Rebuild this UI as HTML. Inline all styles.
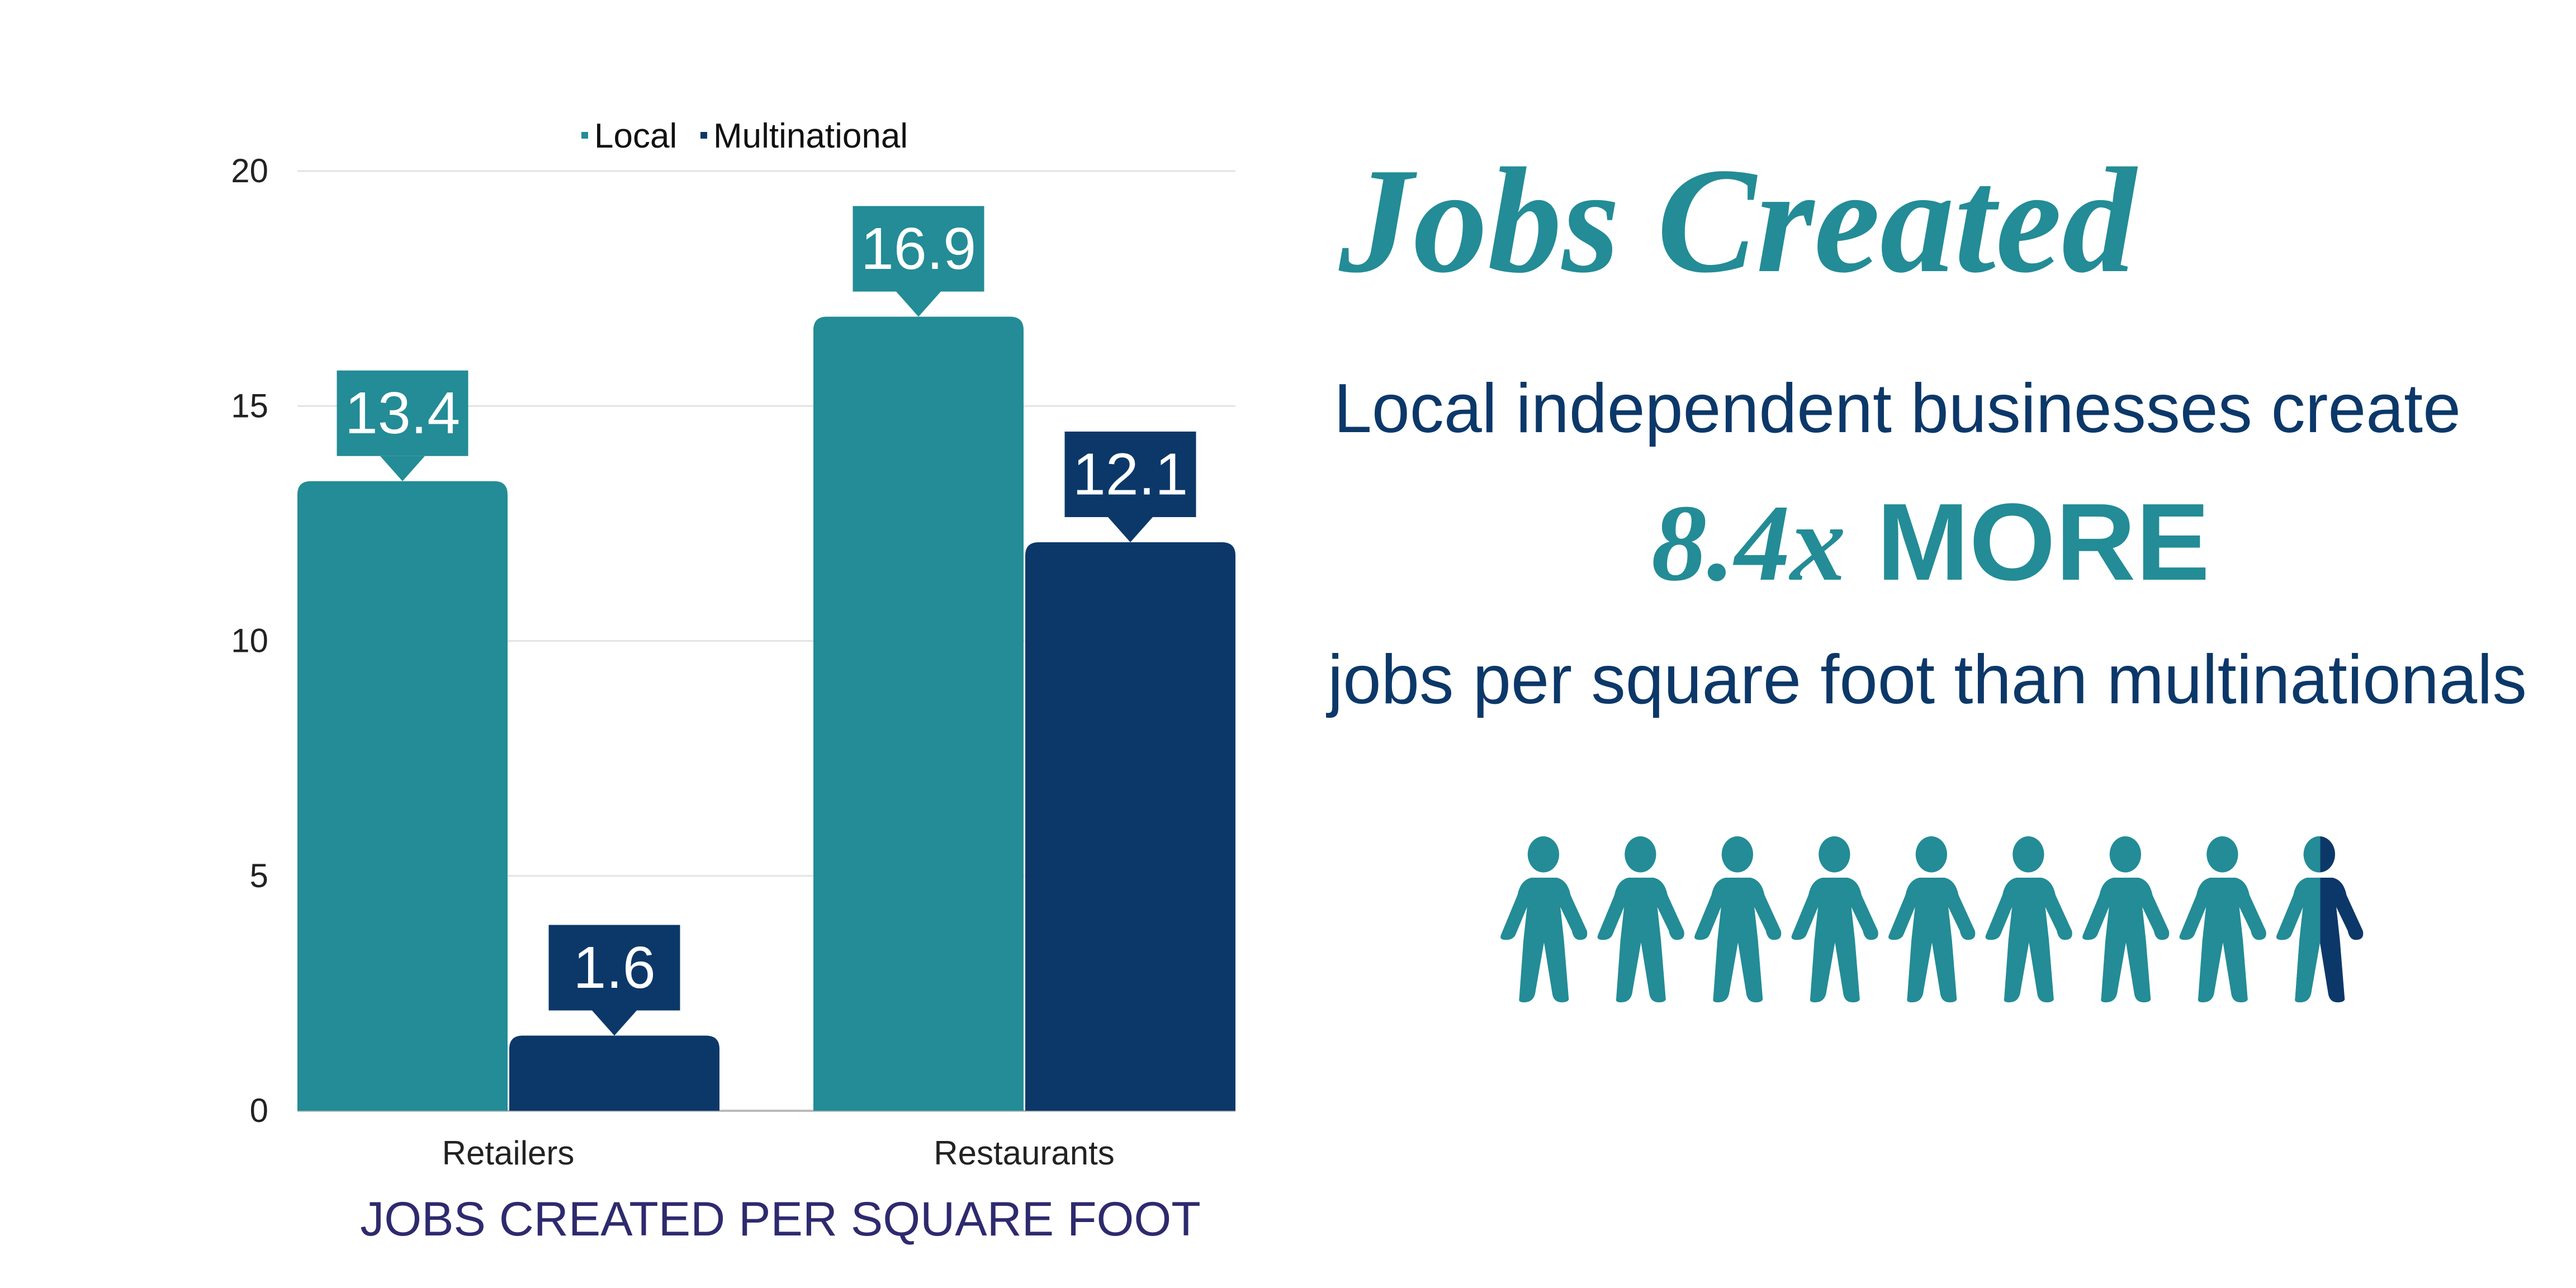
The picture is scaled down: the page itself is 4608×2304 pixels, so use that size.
<!DOCTYPE html>
<html><head><meta charset="utf-8"><style>html,body{margin:0;padding:0;background:#fff}svg{display:block}</style></head>
<body>
<svg id="root" width="4608" height="2304" viewBox="0 0 4608 2304" xmlns="http://www.w3.org/2000/svg">
<g id="chart"></g>
<g>
<text x="2395" y="485" font-family="Liberation Serif, serif" font-style="italic" font-weight="bold" font-size="270" fill="#238c96" textLength="1426" lengthAdjust="spacingAndGlyphs">Jobs Created</text>
<text x="2386" y="773" font-family="Liberation Sans, sans-serif" font-size="124" fill="#0c3869" textLength="2016" lengthAdjust="spacingAndGlyphs">Local independent businesses create</text>
<text x="2954" y="1037" font-size="196" fill="#238c96" textLength="999" lengthAdjust="spacingAndGlyphs"><tspan font-family="Liberation Serif, serif" font-style="italic" font-weight="bold">8.4x</tspan><tspan font-family="Liberation Sans, sans-serif" font-weight="bold"> MORE</tspan></text>
<text x="2375" y="1258" font-family="Liberation Sans, sans-serif" font-size="124" fill="#0c3869" textLength="2145" lengthAdjust="spacingAndGlyphs">jobs per square foot than multinationals</text>
<g id="people"></g>
</g>
</svg>
<script>
const NS='http://www.w3.org/2000/svg';
const categories=['Retailers','Restaurants'];
const localValues=[13.4,16.9];
const multiValues=[1.6,12.1];
const seriesNames=['Local','Multinational'];
const yTicks=[0,5,10,15,20];
const peopleCount=8.4;

const TEAL='#238c96',NAVY='#0c3869';
const X0=532,X1=2210,Y0=1987,Y20=306,YMAX=20;
const y=v=>Y0-(v/YMAX)*(Y0-Y20);
const barW=376;
function mk(tag,attrs,parent){const e=document.createElementNS(NS,tag);for(const k in attrs)e.setAttribute(k,attrs[k]);parent.appendChild(e);return e;}
const chart=document.getElementById('chart');
const F='Liberation Sans Narrow, Liberation Sans, sans-serif';
yTicks.forEach(t=>{
  const l=mk('line',{x1:X0,x2:X1,y1:y(t),y2:y(t),stroke:t===0?'#bbbbbb':'#e3e3e3','stroke-width':t===0?4:3},chart);
  
  
  const tx=mk('text',{x:480,y:y(t)+20,'text-anchor':'end','font-family':F,'font-size':60,fill:'#222'},chart);
  tx.textContent=t;
  
  
});
function bar(x,v,color,name){
  const top=y(v),r=24;
  const p=mk('path',{d:`M${x} ${Y0} L${x} ${top+r} Q${x} ${top} ${x+r} ${top} L${x+barW-r} ${top} Q${x+barW} ${top} ${x+barW} ${top+r} L${x+barW} ${Y0} Z`,fill:color},chart);
  
  
  const cx=x+barW/2,bw=235,bh=153,by=top-45-bh;
  const g=mk('g',{},chart);
  
  
  mk('rect',{x:cx-bw/2,y:by,width:bw,height:bh,fill:color},g);
  mk('path',{d:`M${cx-40} ${by+bh} L${cx+40} ${by+bh} L${cx} ${top} Z`,fill:color},g);
  const t=mk('text',{x:cx,y:by+bh/2+36,'text-anchor':'middle','font-family':F,'font-size':106,fill:'#fff'},g);
  t.textContent=v;
}
categories.forEach((c,i)=>{
  const start=i===0?X0:X1-2*barW-3;
  bar(start,localValues[i],TEAL,'bar-local-'+c.toLowerCase());
  bar(start+barW+3,multiValues[i],NAVY,'bar-multinational-'+c.toLowerCase());
  const t=mk('text',{x:start+barW+1,y:2083,'text-anchor':'middle','font-family':F,'font-size':60,fill:'#222'},chart);
  t.textContent=c;
  
  
});
const xt=mk('text',{x:1396,y:2210,'text-anchor':'middle','font-family':'Liberation Sans, sans-serif','font-size':86,fill:'#2e2a6e'},chart);
xt.textContent='JOBS CREATED PER SQUARE FOOT';


const leg=mk('g',{},chart);


[[1040,1063,TEAL],[1253,1276,NAVY]].forEach((d,i)=>{
  const e=mk('g',{},leg);
  
  
  mk('rect',{x:d[0],y:236,width:12,height:12,fill:d[2]},e);
  const t=mk('text',{x:d[1],y:264,'font-family':F,'font-size':62,fill:'#111'},e);
  t.textContent=seriesNames[i];
});
const people=document.getElementById('people');
const fig='M130 357 L172 357 Q190 370 195 450 L222 640 Q225 688 210 688 Q200 688 197 640 L178 513 L184 690 L192 1005 Q190 1020 180 1020 Q168 1020 165 980 L151 702 L137 960 Q135 1020 118 1020 Q108 1020 110 1000 L117 690 L123 513 L104 660 Q100 688 88 688 Q76 688 80 660 L107 450 Q112 370 130 357 Z';
const defs=mk('defs',{},people);
const sym=mk('symbol',{id:'person',viewBox:'78 137 147 883',preserveAspectRatio:'none'},defs);
mk('path',{d:fig},sym);
mk('ellipse',{cx:150,cy:233,rx:26,ry:96},sym);
const full=Math.floor(peopleCount);
const frac=peopleCount-full;
const spacing=173.5,fx=2683,fy=1496,fw=159,fh=297;
for(let i=0;i<Math.ceil(peopleCount);i++){
  const x=fx+i*spacing;
  const g=mk('g',{},people);
  
  
  if(i<full){mk('use',{href:'#person',x:x,y:fy,width:fw,height:fh,fill:TEAL},g);}
  else{
    const cp=mk('clipPath',{id:'half'},defs);
    mk('rect',{x:x-10,y:fy-10,width:fw*0.5+10,height:fh+20},cp);
    mk('use',{href:'#person',x:x,y:fy,width:fw,height:fh,fill:NAVY},g);
    const w=mk('g',{'clip-path':'url(#half)'},g);
    mk('use',{href:'#person',x:x,y:fy,width:fw,height:fh,fill:TEAL},w);
  }
}
</script>
</body></html>
